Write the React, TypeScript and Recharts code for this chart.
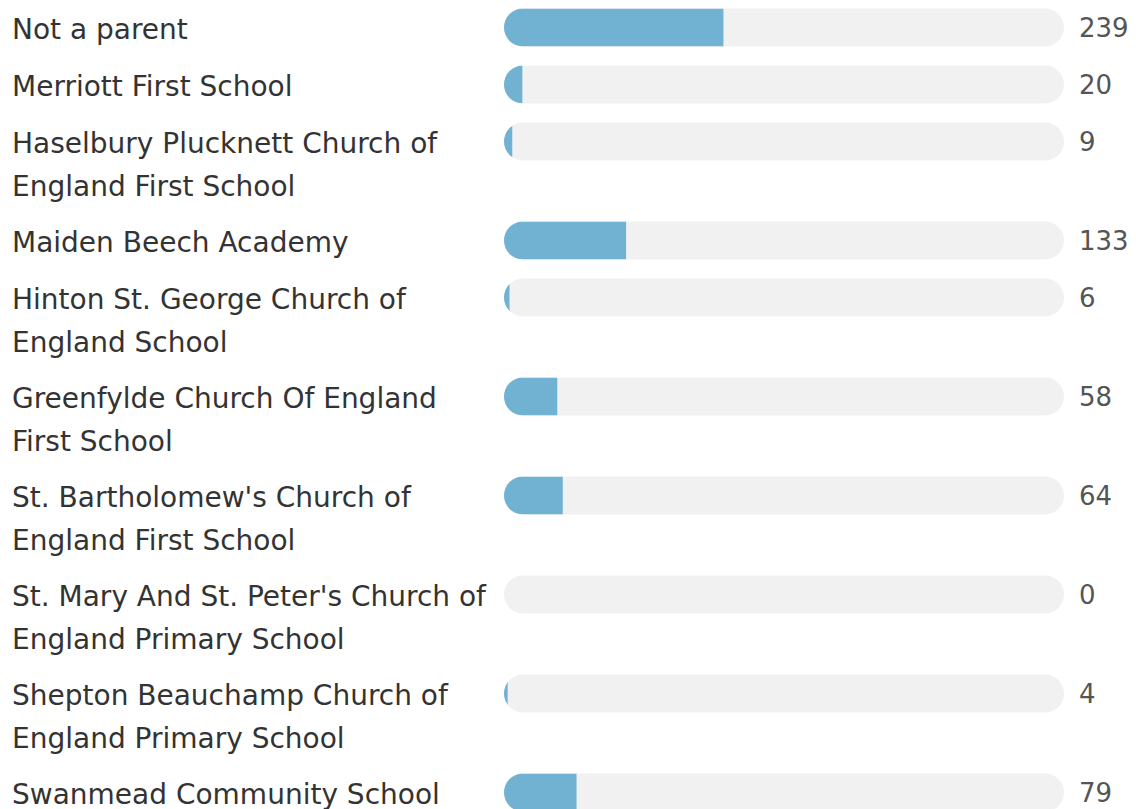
import React from 'react';
import { BarChart, Bar, XAxis, YAxis, LabelList } from 'recharts';

const categories = [
  'Not a parent',
  'Merriott First School',
  'Haselbury Plucknett Church of England First School',
  'Maiden Beech Academy',
  'Hinton St. George Church of England School',
  'Greenfylde Church Of England First School',
  "St. Bartholomew's Church of England First School",
  "St. Mary And St. Peter's Church of England Primary School",
  'Shepton Beauchamp Church of England Primary School',
  'Swanmead Community School',
];

const labelLines: string[][] = [
  ['Not a parent'],
  ['Merriott First School'],
  ['Haselbury Plucknett Church of', 'England First School'],
  ['Maiden Beech Academy'],
  ['Hinton St. George Church of', 'England School'],
  ['Greenfylde Church Of England', 'First School'],
  ["St. Bartholomew's Church of", 'England First School'],
  ["St. Mary And St. Peter's Church of", 'England Primary School'],
  ['Shepton Beauchamp Church of', 'England Primary School'],
  ['Swanmead Community School'],
];

const values = [239, 20, 9, 133, 6, 58, 64, 0, 4, 79];

const VALUE_MAX = 610;

// layout constants
const CHART_W = 1136;
const CHART_H = 860;
const TOP = 8;
const LEFT_W = 504;
const RIGHT_W = 72;
const PLOT_W = CHART_W - LEFT_W - RIGHT_W;
const PLOT_H = CHART_H - TOP;
const BAR = 38;
const LINE = 42;
const GAP = 15;
const FILL = '#71b1d1';
const TRACK = '#f1f1f1';

const rowHeights = labelLines.map((l) => l.length * LINE + GAP);
const positions: number[] = [];
{
  let acc = 0;
  rowHeights.forEach((h) => {
    positions.push(acc + BAR / 2);
    acc += h;
  });
}

const data = categories.map((name, i) => ({
  name,
  value: values[i],
  pos: positions[i],
}));

const LabelTick = (props: any) => {
  const { y, payload } = props;
  const idx = positions.indexOf(payload.value);
  if (idx < 0) return null;
  return (
    <g>
      {labelLines[idx].map((line, k) => (
        <text
          key={k}
          x={12}
          y={y + 12 + k * 42.7}
          fill="#333333"
          fontSize={28}
          fontFamily="DejaVu Sans"
          textAnchor="start"
        >
          {line}
        </text>
      ))}
    </g>
  );
};

const FillShape = (props: any) => {
  const { x, y, width, height, index } = props;
  if (!width || width <= 0) return null;
  const id = `fill-clip-${index}`;
  return (
    <g>
      <defs>
        <clipPath id={id}>
          <rect x={x} y={y} width={width + 40} height={height} rx={19} ry={19} />
        </clipPath>
      </defs>
      <rect x={x} y={y} width={width} height={height} fill={FILL} clipPath={`url(#${id})`} />
    </g>
  );
};

const ValueLabel = (props: any) => {
  const { x, y, height, value } = props;
  return (
    <text
      x={x + PLOT_W + 15}
      y={y + height / 2}
      dominantBaseline="central"
      fill="#555555"
      fontSize={26}
      fontFamily="DejaVu Sans"
    >
      {value}
    </text>
  );
};

export default function App() {
  return (
    <div style={{ position: 'absolute', left: 0, top: 0, width: CHART_W, height: 809, overflow: 'hidden', background: '#ffffff' }}>
      <BarChart
        width={CHART_W}
        height={CHART_H}
        data={data}
        layout="vertical"
        margin={{ top: TOP, right: RIGHT_W, bottom: 0, left: 0 }}
      >
        <XAxis type="number" domain={[0, VALUE_MAX]} hide />
        <YAxis
          type="number"
          dataKey="pos"
          domain={[0, PLOT_H]}
          ticks={positions}
          interval={0}
          width={LEFT_W}
          axisLine={false}
          tickLine={false}
          tick={<LabelTick />}
          allowDataOverflow
        />
        <Bar
          dataKey="value"
          barSize={BAR}
          background={{ fill: TRACK, radius: 19 } as any}
          shape={<FillShape />}
          isAnimationActive={false}
        >
          <LabelList dataKey="value" content={<ValueLabel />} />
        </Bar>
      </BarChart>
    </div>
  );
}
